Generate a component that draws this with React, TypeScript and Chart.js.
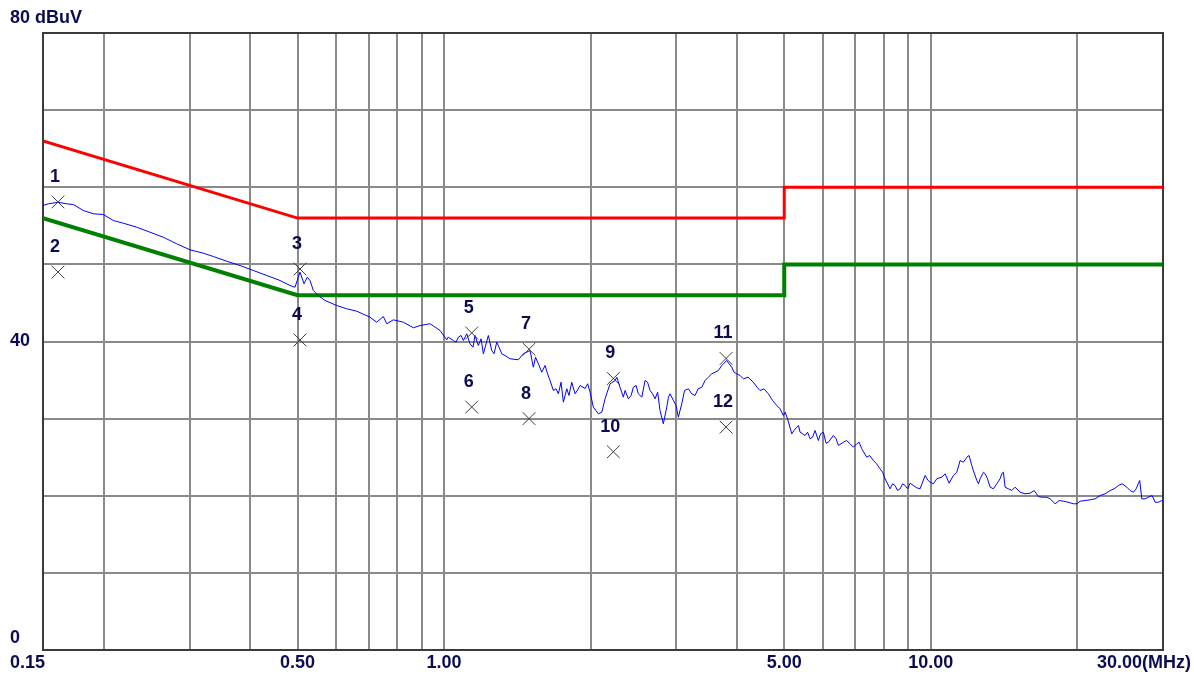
import React, { useEffect, useRef } from "react";
import { Chart, registerables } from "chart.js";

Chart.register(...registerables);

// ---- axis definitions ----
const xGridValues = [0.15, 0.2, 0.3, 0.4, 0.5, 0.6, 0.7, 0.8, 0.9, 1, 2, 3, 4, 5, 6, 7, 8, 9, 10, 20, 30];
const xLabelValues = [0.15, 0.5, 1, 5, 10, 30];
const xLabelTexts = ["0.15", "0.50", "1.00", "5.00", "10.00", "30.00(MHz)"];
const yLabelValues = [80, 40, 0];
const yLabelTexts = ["80 dBuV", "40", "0"];

// ---- limit lines ----
const qpLimitFreq = [0.15, 0.5, 5, 5, 30];
const qpLimitLevel = [66, 56, 56, 60, 60];
const avLimitFreq = [0.15, 0.5, 5, 5, 30];
const avLimitLevel = [56, 46, 46, 50, 50];

// ---- measured trace (MHz) ----
const traceFreq = [
  0.150, 0.1538, 0.1613, 0.1678, 0.1731, 0.1815, 0.1903, 0.1995, 0.2092, 0.2193,
  0.2337, 0.2489, 0.2650, 0.2823, 0.3007, 0.3203, 0.3357, 0.3577, 0.3810, 0.4057,
  0.4323, 0.4603, 0.4826, 0.4941, 0.5059, 0.5157, 0.5237, 0.5305, 0.5389, 0.5517,
  0.5695, 0.6018, 0.6311, 0.6617, 0.7046, 0.7272, 0.7504, 0.7626, 0.7868, 0.8250,
  0.8652, 0.8929, 0.9362, 0.9814, 1.0132, 1.0206, 1.0449, 1.0586, 1.0700, 1.0839,
  1.0957, 1.1135, 1.1308, 1.1468, 1.1580, 1.1763, 1.1915, 1.2045, 1.2334, 1.2531,
  1.2670, 1.2832, 1.2974, 1.3140, 1.3410, 1.3664, 1.4213, 1.4555, 1.5021, 1.5258,
  1.5417, 1.5624, 1.5878, 1.6128, 1.6320, 1.6512, 1.6773, 1.6986, 1.7175, 1.7394,
  1.7588, 1.7874, 1.8060, 1.8299, 1.8588, 1.8800, 1.9034, 1.9491, 1.9730, 1.9953,
  2.0270, 2.0756, 2.1093, 2.1422, 2.1933, 2.2460, 2.2650, 2.2994, 2.3357, 2.3550,
  2.3916, 2.4230, 2.4489, 2.4810, 2.5071, 2.5490, 2.5881, 2.6190, 2.6502, 2.6820,
  2.7138, 2.7470, 2.7783, 2.8221, 2.8680, 2.8910, 2.9133, 2.9594, 2.9970, 3.0297,
  3.0789, 3.1200, 3.1769, 3.2280, 3.2795, 3.3260, 3.3848, 3.4380, 3.4922, 3.5490,
  3.6045, 3.6620, 3.7205, 3.7620, 3.8094, 3.8520, 3.9003, 3.9430, 3.9936, 4.0580,
  4.1208, 4.2130, 4.3200, 4.3960, 4.4594, 4.5440, 4.6383, 4.7310, 4.8257, 4.9020,
  4.9791, 5.0195, 5.0790, 5.1818, 5.2360, 5.3049, 5.3500, 5.3888, 5.4530, 5.5181,
  5.5830, 5.6505, 5.7170, 5.7848, 5.8761, 5.9370, 6.0170, 6.0930, 6.1601, 6.3078,
  6.3900, 6.4590, 6.6126, 6.7140, 6.8258, 6.9350, 7.0464, 7.1250, 7.2140, 7.3869,
  7.4880, 7.6224, 7.7390, 7.8684, 7.9620, 8.0555, 8.2485, 8.3480, 8.4464, 8.5470,
  8.6514, 8.7520, 8.8569, 8.9600, 9.0694, 9.2100, 9.3603, 9.5080, 9.7359, 9.8750,
  9.9674, 10.126, 10.289, 10.536, 10.702, 10.907, 11.130, 11.311, 11.489, 11.669,
  11.861, 11.988, 12.142, 12.234, 12.433, 12.530, 12.630, 12.830, 12.932, 13.080,
  13.243, 13.450, 13.667, 13.880, 13.995, 14.100, 14.216, 14.440, 14.672, 14.900,
  15.258, 15.620, 15.999, 16.310, 16.638, 16.940, 17.314, 17.590, 18.007, 18.360,
  18.730, 19.150, 19.635, 19.980, 20.268, 20.750, 21.249, 21.760, 22.278, 22.810,
  23.357, 23.810, 24.300, 24.720, 25.280, 25.680, 26.084, 26.430, 26.709, 26.870,
  27.137, 27.570, 27.996, 28.500, 28.901, 29.360, 29.832, 30.000,
];
// ---- measured trace (dBuV) ----
const traceLevel = [
  57.63, 57.85, 58.06, 57.85, 57.76, 56.99, 56.56, 56.47, 55.69, 55.34,
  54.82, 54.17, 53.52, 52.67, 51.89, 51.45, 51.02, 50.41, 49.85, 49.21,
  48.56, 47.91, 47.26, 47.04, 48.99, 47.48, 48.34, 47.91, 46.61, 45.96,
  45.32, 44.67, 44.24, 43.93, 43.15, 42.50, 43.24, 42.30, 42.81, 42.50,
  41.78, 42.07, 42.30, 41.43, 40.22, 40.56, 40.13, 39.91, 40.56, 40.78,
  40.13, 41.00, 39.70, 39.26, 40.78, 39.48, 40.35, 38.41, 40.78, 38.83,
  38.41, 39.91, 39.26, 38.41, 38.10, 37.76, 37.63, 38.41, 38.83, 36.67,
  37.96, 37.11, 36.02, 36.89, 35.81, 34.94, 33.65, 33.87, 33.22, 34.72,
  32.13, 33.87, 33.00, 34.72, 33.22, 33.70, 34.30, 33.91, 34.52, 33.43,
  31.48, 30.63, 30.83, 32.57, 34.52, 34.94, 35.37, 34.07, 32.78, 33.65,
  32.57, 33.00, 34.07, 34.30, 33.22, 32.78, 34.94, 34.72, 33.65, 33.22,
  32.57, 33.43, 31.05, 29.33, 31.48, 32.78, 33.22, 32.35, 31.70, 30.19,
  31.92, 33.65, 33.87, 33.22, 33.00, 33.87, 34.07, 34.94, 35.37, 35.81,
  36.02, 36.24, 36.89, 37.20, 37.54, 37.11, 36.67, 36.02, 35.81, 35.59,
  35.16, 35.37, 34.72, 34.07, 33.65, 33.87, 33.22, 32.35, 31.70, 31.27,
  30.41, 30.83, 29.98, 28.03, 28.46, 28.89, 29.11, 28.24, 28.03, 27.81,
  28.24, 27.38, 27.59, 28.46, 27.16, 28.03, 28.24, 26.81, 26.94, 27.81,
  27.38, 26.52, 26.94, 27.16, 26.74, 26.30, 26.74, 26.94, 26.09, 25.00,
  25.22, 24.57, 24.14, 23.49, 23.05, 22.20, 20.90, 21.55, 21.33, 20.68,
  20.90, 21.55, 21.33, 20.90, 21.63, 21.33, 21.03, 20.90, 22.63, 21.98,
  21.76, 21.55, 22.20, 22.41, 22.85, 21.63, 22.63, 23.05, 24.57, 24.35,
  25.00, 25.22, 23.92, 23.27, 21.98, 21.55, 22.20, 23.05, 22.85, 22.20,
  21.11, 20.90, 21.55, 22.20, 22.85, 23.05, 21.11, 20.90, 20.68, 21.11,
  20.46, 20.25, 20.33, 20.68, 19.90, 19.81, 19.81, 19.60, 18.96, 19.38,
  19.29, 19.16, 18.96, 18.96, 19.29, 19.38, 19.47, 19.60, 20.03, 20.25,
  20.68, 20.90, 21.33, 21.55, 21.11, 20.68, 20.46, 20.90, 21.63, 21.98,
  19.60, 19.60, 19.81, 20.03, 19.16, 19.16, 19.38, 19.38,
];

// ---- peak markers ----
const markerFreq = [0.161, 0.161, 0.506, 0.506, 1.140, 1.140, 1.495, 1.495, 2.228, 2.228, 3.797, 3.797];
const markerLevel = [58.1, 49.0, 49.4, 40.2, 41.1, 31.5, 39.0, 30.0, 35.2, 25.7, 37.8, 28.9];
const markerLabels = ["1", "2", "3", "4", "5", "6", "7", "8", "9", "10", "11", "12"];

const TEXT_COLOR = "#0c0c52";
const FONT = 'bold 18px "Liberation Sans", Arial, sans-serif';

const pts = (xs: number[], ys: number[]) => xs.map((x, i) => ({ x, y: ys[i] }));

const framePlugin = {
  id: "frameAndLabels",
  beforeDatasetsDraw(chart: any) {
    const { ctx, chartArea } = chart;
    ctx.save();
    ctx.strokeStyle = "#3a3a3a";
    ctx.lineWidth = 2;
    ctx.strokeRect(chartArea.left, chartArea.top, chartArea.right - chartArea.left, chartArea.bottom - chartArea.top);
    ctx.restore();
  },
  afterDraw(chart: any) {
    const { ctx, chartArea } = chart;
    const xs = chart.scales.x;
    const ys = chart.scales.y;
    ctx.save();
    ctx.fillStyle = TEXT_COLOR;
    ctx.font = FONT;
    ctx.textBaseline = "middle";
    yLabelValues.forEach((v, i) => {
      let y = ys.getPixelForValue(v);
      if (i === 0) y -= 15;
      else if (i === yLabelValues.length - 1) y -= 12;
      ctx.textAlign = "left";
      ctx.fillText(yLabelTexts[i], 10, y);
    });
    const yx = chartArea.bottom + 13;
    xLabelValues.forEach((v, i) => {
      const px = xs.getPixelForValue(v);
      if (i === 0) {
        ctx.textAlign = "right";
        ctx.fillText(xLabelTexts[i], px + 2, yx);
      } else if (i === xLabelValues.length - 1) {
        ctx.textAlign = "right";
        ctx.fillText(xLabelTexts[i], chart.width - 3, yx);
      } else {
        ctx.textAlign = "center";
        ctx.fillText(xLabelTexts[i], px, yx);
      }
    });
    ctx.textAlign = "center";
    markerFreq.forEach((f, i) => {
      const px = xs.getPixelForValue(f);
      const py = ys.getPixelForValue(markerLevel[i]);
      ctx.fillText(markerLabels[i], px - 3, py - 25);
    });
    ctx.restore();
  },
};

export default function App() {
  const canvasRef = useRef<HTMLCanvasElement | null>(null);

  useEffect(() => {
    document.body.style.margin = "0";
    const canvas = canvasRef.current;
    if (!canvas) return;
    const chart = new Chart(canvas, {
      type: "line",
      data: {
        datasets: [
          {
            label: "Markers",
            data: pts(markerFreq, markerLevel),
            showLine: false,
            pointStyle: "crossRot",
            pointRadius: 9,
            pointBorderColor: "#3c3c3c",
            pointBorderWidth: 1,
            pointBackgroundColor: "#3c3c3c",
            order: 0,
          },
          {
            label: "Trace",
            data: pts(traceFreq, traceLevel),
            borderColor: "#0000ff",
            borderWidth: 1,
            pointRadius: 0,
            tension: 0,
            order: 1,
          },
          {
            label: "QP limit",
            data: pts(qpLimitFreq, qpLimitLevel),
            borderColor: "#ff0000",
            borderWidth: 3,
            pointRadius: 0,
            tension: 0,
            order: 2,
          },
          {
            label: "AV limit",
            data: pts(avLimitFreq, avLimitLevel),
            borderColor: "#008000",
            borderWidth: 4,
            pointRadius: 0,
            tension: 0,
            order: 3,
          },
        ],
      },
      options: {
        responsive: false,
        animation: false,
        events: [],
        layout: { padding: { left: 43, top: 33, right: 31, bottom: 29 } },
        plugins: { legend: { display: false }, tooltip: { enabled: false } },
        scales: {
          x: {
            type: "logarithmic",
            min: 0.15,
            max: 30,
            afterBuildTicks: (scale: any) => {
              scale.ticks = xGridValues.map((v) => ({ value: v }));
            },
            ticks: { display: false },
            grid: { color: "#8a8a8a", lineWidth: 2, drawTicks: false },
            border: { display: false },
          },
          y: {
            type: "linear",
            min: 0,
            max: 80,
            ticks: { display: false, stepSize: 10 },
            grid: { color: "#8a8a8a", lineWidth: 2, drawTicks: false },
            border: { display: false },
          },
        },
      },
      plugins: [framePlugin],
    });
    return () => chart.destroy();
  }, []);

  return (
    <div style={{ position: "fixed", left: 0, top: 0, width: 1194, height: 679, background: "#ffffff" }}>
      <canvas ref={canvasRef} width={1194} height={679} style={{ display: "block" }} />
    </div>
  );
}
